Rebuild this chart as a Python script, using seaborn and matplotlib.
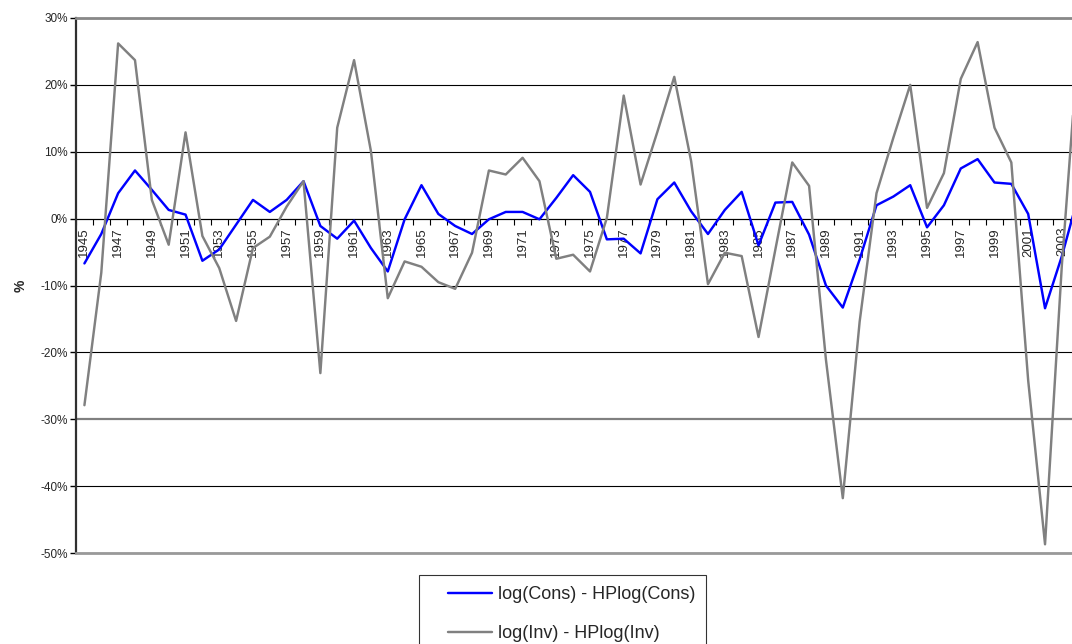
import numpy as np
import pandas as pd
import matplotlib
matplotlib.use("Agg")
import matplotlib.pyplot as plt
import seaborn as sns
from matplotlib.ticker import FixedLocator, FuncFormatter

years = list(range(1945, 2005))
cons = [-6.7, -2.3, 3.8, 7.2, 4.3, 1.3, 0.6, -6.3, -4.6, -0.9,
        2.8, 1.0, 2.8, 5.6, -1.1, -3.0, -0.3, -4.4, -7.9, -0.1,
        5.0, 0.7, -1.1, -2.3, -0.1, 1.0, 1.0, -0.1, 3.1, 6.5,
        4.0, -3.1, -3.0, -5.2, 2.9, 5.4, 1.1, -2.3, 1.3, 4.0,
        -4.0, 2.4, 2.5, -2.4, -10.0, -13.3, -6.1, 2.0, 3.3, 5.0,
        -1.3, 2.0, 7.5, 8.9, 5.4, 5.2, 0.7, -13.4, -5.6, 3.6]
inv = [-27.9, -8.1, 26.2, 23.7, 2.8, -3.9, 12.9, -2.6, -7.4, -15.3,
       -4.4, -2.7, 1.8, 5.6, -23.1, 13.6, 23.7, 10.1, -11.9, -6.4,
       -7.2, -9.5, -10.5, -5.1, 7.2, 6.6, 9.1, 5.6, -6.0, -5.4,
       -7.9, 0.1, 18.4, 5.1, 13.0, 21.2, 8.6, -9.8, -5.1, -5.6,
       -17.7, -4.6, 8.4, 4.9, -21.1, -41.8, -15.4, 3.8, 12.1, 20.0,
       1.6, 6.8, 20.9, 26.4, 13.6, 8.4, -24.2, -48.7, -6.9, 27.0]
series_names = ["log(Cons) - HPlog(Cons)", "log(Inv) - HPlog(Inv)"]
year_labels = [str(y) for y in range(1945, 2005, 2)]
y_ticks = list(range(-50, 31, 10))

df = pd.DataFrame({
    "year": years * 2,
    "value": cons + inv,
    "series": [series_names[0]] * len(years) + [series_names[1]] * len(years),
})

sns.set_theme(style="white")
plt.rcParams["font.family"] = ["Liberation Sans", "DejaVu Sans"]

fig = plt.figure(figsize=(10.72, 6.44), dpi=100)
ax = fig.add_axes([76 / 1072, (644 - 553) / 644, (1072 - 76) / 1072, (553 - 18) / 644])

sns.lineplot(data=df, x="year", y="value", hue="series", hue_order=series_names,
             palette=["#0000FF", "#808080"], linewidth=1.75, ax=ax, legend=True)

ymin, ymax = -50, 30
ax.set_ylim(ymin, ymax)
ax.set_xlim(1944.5, 1945 + (1072 - 84) / 16.86)

# grid
ax.yaxis.set_major_locator(FixedLocator(y_ticks))
ax.yaxis.set_major_formatter(FuncFormatter(lambda v, p: f"{int(v)}%"))
ax.grid(axis="y", color="black", linewidth=0.8)
ax.grid(axis="x", visible=False)
for gl, t in zip(ax.get_ygridlines(), y_ticks):
    if t == -30:
        gl.set_color("#808080")
        gl.set_linewidth(1.6)
ax.set_axisbelow(True)

ax.tick_params(axis="y", direction="out", length=4, width=1, color="black",
               labelsize=8.5, pad=2, left=True)
ax.set_ylabel("%", fontsize=10, fontweight="bold", labelpad=9)

# frame
ax.spines["left"].set_color("#303030")
ax.spines["left"].set_linewidth(1.6)
ax.spines["top"].set_color("#888888")
ax.spines["top"].set_linewidth(2)
ax.spines["bottom"].set_color("#999999")
ax.spines["bottom"].set_linewidth(2)
ax.spines["right"].set_visible(False)
ax.set_xticks([])
ax.set_xlabel("")

# category axis crossing at 0%
sec = ax.secondary_xaxis((0 - ymin) / (ymax - ymin))
sec.set_alignment("bottom")
sec.spines["bottom"].set_color("black")
sec.spines["bottom"].set_linewidth(0.8)
sec.xaxis.set_major_locator(FixedLocator([int(s) for s in year_labels]))
sec.xaxis.set_major_formatter(FuncFormatter(lambda v, p: str(int(round(v)))))
sec.xaxis.set_minor_locator(FixedLocator([y - 0.5 for y in years] + [years[-1] + 0.5]))
sec.tick_params(axis="x", which="major", length=0, pad=6, labelsize=9.5,
                labelrotation=90, bottom=True)
sec.tick_params(axis="x", which="minor", length=4, width=0.8, color="black",
                direction="out", bottom=True)

# legend
handles, labels = ax.get_legend_handles_labels()
ax.legend_.remove()
leg = fig.legend(handles, labels, loc="upper left",
                 bbox_to_anchor=(419 / 1072, (644 - 575) / 644),
                 fontsize=13, frameon=True, fancybox=False, edgecolor="black",
                 handlelength=3.45, handletextpad=0.3, labelspacing=1.25,
                 borderpad=0.6, borderaxespad=0)
leg.get_frame().set_linewidth(0.8)
for h in leg.get_lines():
    h.set_linewidth(1.75)
    xd = np.asarray(h.get_xdata(), dtype=float)
    yd = np.asarray(h.get_ydata(), dtype=float)
    x0 = xd.min() + (xd.max() - xd.min()) * 18 / 62
    h.set_data(np.linspace(x0, xd.max(), len(yd)), yd)

fig.savefig("out.png", dpi=100)
